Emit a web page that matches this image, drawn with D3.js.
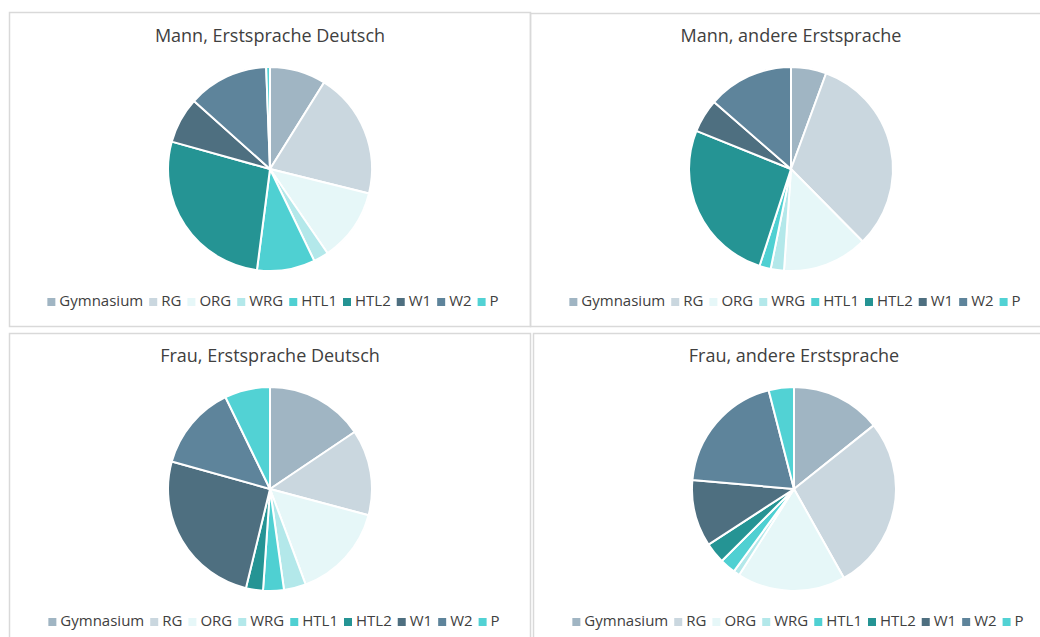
<!DOCTYPE html>
<html>
<head>
<meta charset="utf-8">
<script src="https://cdn.jsdelivr.net/npm/d3@7"></script>
<style>
  body { margin: 0; background: #fff; }
  svg { font-family: "Open Sans", "Noto Sans", sans-serif; }
</style>
</head>
<body>
<div id="chart"></div>
<script>
// categories and shares (percent)
const categories = ["Gymnasium", "RG", "ORG", "WRG", "HTL1", "HTL2", "W1", "W2", "P"];
const colors = ["#a0b5c3", "#cad7df", "#e6f7f8", "#b3e8ea", "#4fd0d2", "#259494", "#4e6f80", "#5e849b", "#52d2d4"];

const titles = ["Mann, Erstsprache Deutsch", "Mann, andere Erstsprache", "Frau, Erstsprache Deutsch", "Frau, andere Erstsprache"];

const mannDeutsch = [8.9, 20.0, 11.6, 2.4, 9.2, 27.3, 7.3, 12.8, 0.6];
const mannAndere  = [5.6, 32.0, 13.5, 2.1, 1.8, 26.1, 5.3, 13.6, 0];
const frauDeutsch = [15.6, 13.6, 15.2, 3.5, 3.3, 2.7, 25.6, 13.5, 7.2];
const frauAndere  = [14.3, 27.6, 17.2, 1.0, 2.5, 3.3, 10.6, 19.6, 4.0];

const series = [mannDeutsch, mannAndere, frauDeutsch, frauAndere];

const width = 1040, height = 637;

// panel frames + centres
const panels = [
  { box: [9, 12, 521, 314],  cx: 270, cy: 169, title: 37,  legend: 302, lx: 273 },
  { box: [530, 13, 520, 313], cx: 791, cy: 169, title: 37,  legend: 302, lx: 795 },
  { box: [9, 333, 521, 320], cx: 270, cy: 489, title: 357, legend: 622, lx: 274 },
  { box: [533, 333, 520, 320], cx: 794, cy: 489, title: 357, legend: 622, lx: 798 }
];

const svg = d3.select("#chart")
  .append("svg")
    .attr("width", width)
    .attr("height", height);

const color = d3.scaleOrdinal().domain(categories).range(colors);
const pie = d3.pie().sort(null).value(d => d.value);
const arc = d3.arc().innerRadius(0).outerRadius(102);

panels.forEach(function(p, i) {
  const g = svg.append("g");

  g.append("rect")
    .attr("x", p.box[0] + 0.5)
    .attr("y", p.box[1] + 0.5)
    .attr("width", p.box[2])
    .attr("height", p.box[3])
    .attr("fill", "none")
    .attr("stroke", "#d9d9d9")
    .attr("stroke-width", 1.5);

  g.append("text")
    .attr("x", p.cx)
    .attr("y", p.title)
    .attr("text-anchor", "middle")
    .attr("dominant-baseline", "middle")
    .style("font-size", "18px")
    .style("fill", "#404040")
    .text(titles[i]);

  const data = categories.map((c, j) => ({ name: c, value: series[i][j] }));

  g.append("g")
    .attr("transform", `translate(${p.cx}, ${p.cy})`)
    .selectAll("path")
    .data(pie(data))
    .join("path")
      .attr("d", arc)
      .attr("fill", d => color(d.data.name))
      .attr("stroke", "#fff")
      .attr("stroke-width", 2)
      .attr("stroke-linejoin", "round");

  // legend, laid out from measured text widths then centred
  const leg = g.append("g");
  let x = 0;
  categories.forEach(function(c) {
    const item = leg.append("g").attr("transform", `translate(${x}, 0)`);
    item.append("rect")
      .attr("x", 0)
      .attr("y", -4)
      .attr("width", 8)
      .attr("height", 8)
      .attr("fill", color(c));
    const t = item.append("text")
      .attr("x", 12)
      .attr("y", 0)
      .attr("dominant-baseline", "middle")
      .style("font-size", "15px")
      .style("fill", "#404040")
      .text(c);
    x += 12 + t.node().getComputedTextLength() + 6;
  });
  const total = x - 6;
  leg.attr("transform", `translate(${p.lx - total / 2}, ${p.legend})`);
});
</script>
</body>
</html>
